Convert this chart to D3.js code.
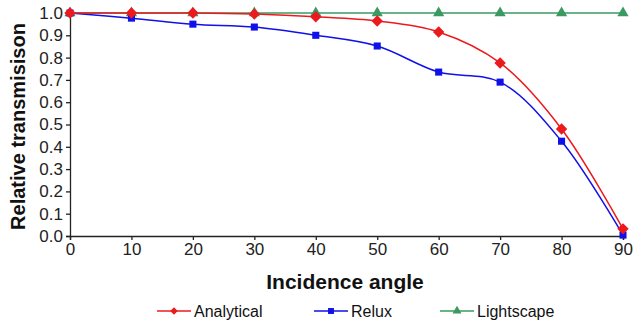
<!DOCTYPE html>
<html>
<head>
<meta charset="utf-8">
<script src="https://cdn.jsdelivr.net/npm/d3@7"></script>
<style>
  body { margin: 0; background: #fff; }
  svg { font-family: "Liberation Sans", Arial, sans-serif; }
</style>
</head>
<body>
<svg id="chart" width="634" height="322"></svg>
<script>
var angles = [0, 10, 20, 30, 40, 50, 60, 70, 80, 90];
var analytical = [1.0, 1.0, 1.0, 0.995, 0.983, 0.964, 0.915, 0.776, 0.48, 0.032];
var relux = [1.0, 0.977, 0.95, 0.937, 0.9, 0.852, 0.735, 0.69, 0.425, 0.004];
var lightscape = [1.0, 1.0, 1.0, 1.0, 1.0, 1.0, 1.0, 1.0, 1.0, 1.0];
var yTicks = [0, 0.1, 0.2, 0.3, 0.4, 0.5, 0.6, 0.7, 0.8, 0.9, 1.0];
var seriesNames = ["Analytical", "Relux", "Lightscape"];

var series = [
  {name: seriesNames[0], values: analytical, color: "#ec1a1e", shape: d3.symbolDiamond2},
  {name: seriesNames[1], values: relux, color: "#1010e8", shape: d3.symbolSquare},
  {name: seriesNames[2], values: lightscape, color: "#3a9a62", shape: d3.symbolTriangle}
];

var svg = d3.select("#chart");
var plotLeft = 70, plotRight = 623, plotTop = 13, plotBottom = 236;

var x = d3.scaleLinear().domain([0, 90]).range([plotLeft, plotRight]);
var y = d3.scaleLinear().domain([0, 1]).range([plotBottom, plotTop]);

// axes
var yAxis = svg.append("g")
  .attr("transform", "translate(" + plotLeft + ",0)")
  .call(d3.axisLeft(y).tickValues(yTicks).tickFormat(d3.format(".1f")).tickSizeOuter(0).tickSize(4).tickPadding(3));
var xAxis = svg.append("g")
  .attr("transform", "translate(0," + plotBottom + ")")
  .call(d3.axisBottom(x).tickValues(angles).tickSizeOuter(0).tickSize(4).tickPadding(3));
[yAxis, xAxis].forEach(function(a) {
  a.selectAll("text").style("font-size", "17px").attr("fill", "#222").style("font-family", "Liberation Sans, Arial, sans-serif");
  a.selectAll("line, path").attr("stroke", "#222").attr("stroke-width", 1.3);
});

var line = d3.line()
  .x(function(d, i) { return x(angles[i]); })
  .y(function(d) { return y(d); })
  .curve(d3.curveCatmullRom.alpha(0.5));

// lines, green at the back
series.slice().reverse().forEach(function(s) {
  svg.append("path")
    .datum(s.values)
    .attr("d", line)
    .attr("fill", "none")
    .attr("stroke", s.color)
    .attr("stroke-width", 1.5);
});
series.slice().reverse().forEach(function(s) {
  var size = s.shape === d3.symbolTriangle ? 55 : (s.shape === d3.symbolSquare ? 50 : 55);
  svg.append("g").selectAll("path")
    .data(s.values)
    .join("path")
    .attr("transform", function(d, i) { return "translate(" + x(angles[i]) + "," + y(d) + ")"; })
    .attr("d", d3.symbol().type(s.shape).size(size))
    .attr("fill", s.color)
    .attr("stroke", s.shape === d3.symbolDiamond2 ? s.color : "none")
    .attr("stroke-width", s.shape === d3.symbolDiamond2 ? 1.5 : 0);
});

// axis titles
svg.append("text")
  .attr("transform", "translate(25," + ((plotTop + plotBottom) / 2 + 2) + ") rotate(-90)")
  .attr("text-anchor", "middle")
  .style("font-size", "20px")
  .style("font-weight", "bold")
  .attr("fill", "#111")
  .text("Relative transmisison");
svg.append("text")
  .attr("x", 345)
  .attr("y", 289)
  .attr("text-anchor", "middle")
  .style("font-size", "21px")
  .style("font-weight", "bold")
  .attr("fill", "#111")
  .text("Incidence angle");

// legend
var legendX = [157, 314, 440];
series.forEach(function(s, i) {
  var g = svg.append("g").attr("transform", "translate(" + legendX[i] + ",311)");
  g.append("line").attr("x1", 0).attr("x2", 34).attr("y1", 0).attr("y2", 0)
    .attr("stroke", s.color).attr("stroke-width", 1.5);
  g.append("path").attr("transform", "translate(17,0)")
    .attr("d", d3.symbol().type(s.shape).size(35)).attr("fill", s.color);
  g.append("text").attr("x", 37).attr("y", 6)
    .style("font-size", "16px").attr("fill", "#111").text(s.name);
});
</script>
</body>
</html>
